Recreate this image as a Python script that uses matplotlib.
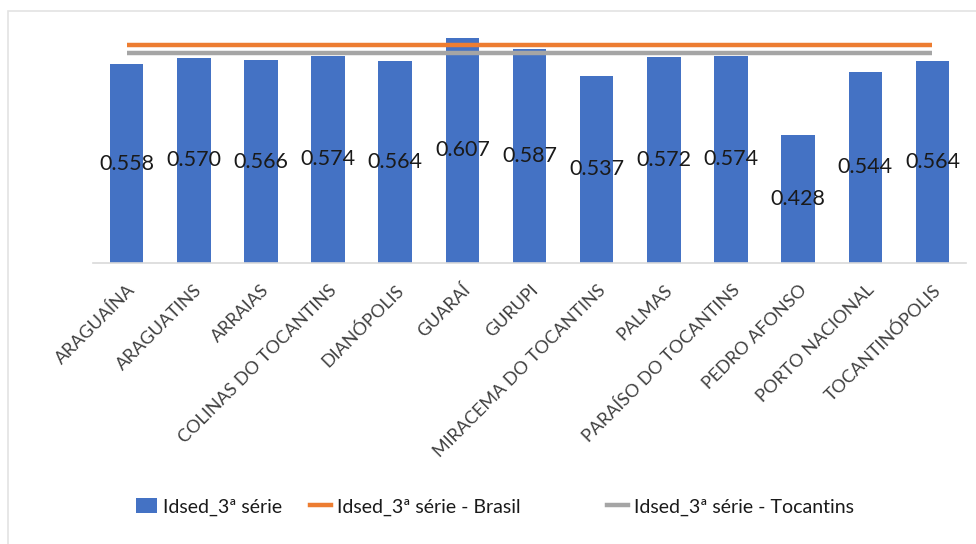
import numpy as np
import matplotlib.pyplot as plt
import matplotlib.transforms as mtransforms
from matplotlib.lines import Line2D
from matplotlib.patches import Patch, Rectangle

# Municípios e valores do Idsed da 3ª série
municipios = ['ARAGUAÍNA', 'ARAGUATINS', 'ARRAIAS', 'COLINAS DO TOCANTINS',
              'DIANÓPOLIS', 'GUARAÍ', 'GURUPI', 'MIRACEMA DO TOCANTINS',
              'PALMAS', 'PARAÍSO DO TOCANTINS', 'PEDRO AFONSO',
              'PORTO NACIONAL', 'TOCANTINÓPOLIS']
idsed = [0.558, 0.570, 0.566, 0.574, 0.564, 0.607, 0.587,
         0.537, 0.572, 0.574, 0.428, 0.544, 0.564]
idsed_brasil = 0.594
idsed_tocantins = 0.579

plt.rcParams['font.family'] = ['Lato', 'DejaVu Sans']

fig = plt.figure(figsize=(9.76, 5.44), dpi=100)
ax = fig.add_axes([0.0953, 0.5165, 0.8945, 0.4467])

# moldura clara do gráfico
fig.patches.append(Rectangle((8 / 976, -0.1), 1.2, 1 - 11 / 544 + 0.1,
                             transform=fig.transFigure, fill=False,
                             edgecolor='#e3e3e3', linewidth=1.2))

x = np.arange(len(municipios))
ymin = 0.19
bars = ax.bar(x, np.array(idsed) - ymin, bottom=ymin, width=0.5,
              color='#4472C4', zorder=2)

ax.plot([x[0], x[-1]], [idsed_brasil] * 2, color='#ED7D31', lw=3.2,
        solid_capstyle='butt', zorder=3)
ax.plot([x[0], x[-1]], [idsed_tocantins] * 2, color='#A5A5A5', lw=3.2,
        solid_capstyle='butt', zorder=3)

for xi, v in zip(x, idsed):
    ax.text(xi, (v + ymin) / 2, f'{v:.3f}', ha='center', va='center',
            fontsize=15.5, color='#1a1a1a', zorder=4)

ax.set_xlim(-0.5, len(municipios) - 0.5)
ax.set_ylim(ymin, 0.64)
ax.set_yticks([])
ax.set_xticks(x)
ax.set_xticklabels(municipios, rotation=45, ha='right', va='center',
                   rotation_mode='anchor', fontsize=13, color='#404040')
ax.tick_params(axis='x', length=0, pad=14)
shift = mtransforms.ScaledTranslation(6 / 100, -5 / 100, fig.dpi_scale_trans)
for lbl in ax.get_xticklabels():
    lbl.set_transform(lbl.get_transform() + shift)
for s in ['top', 'right', 'left']:
    ax.spines[s].set_visible(False)
ax.spines['bottom'].set_color('#D9D9D9')
ax.spines['bottom'].set_linewidth(1.2)

# legenda: uma entrada por vez, alinhadas na base
entradas = [
    (Patch(facecolor='#4472C4'), 'Idsed_3ª série', 136),
    (Line2D([0], [0], color='#ED7D31', lw=3.2), 'Idsed_3ª série - Brasil', 310),
    (Line2D([0], [0], color='#A5A5A5', lw=3.2), 'Idsed_3ª série - Tocantins', 607),
]
for h, txt, px in entradas:
    fig.legend([h], [txt], loc='center left',
               bbox_to_anchor=(px / 976, 1 - 507 / 544),
               frameon=False, fontsize=14, handlelength=1.1, handleheight=0.8,
               handletextpad=0.3, borderpad=0, borderaxespad=0,
               labelcolor='#1a1a1a')

fig.savefig('out.png', dpi=100)
